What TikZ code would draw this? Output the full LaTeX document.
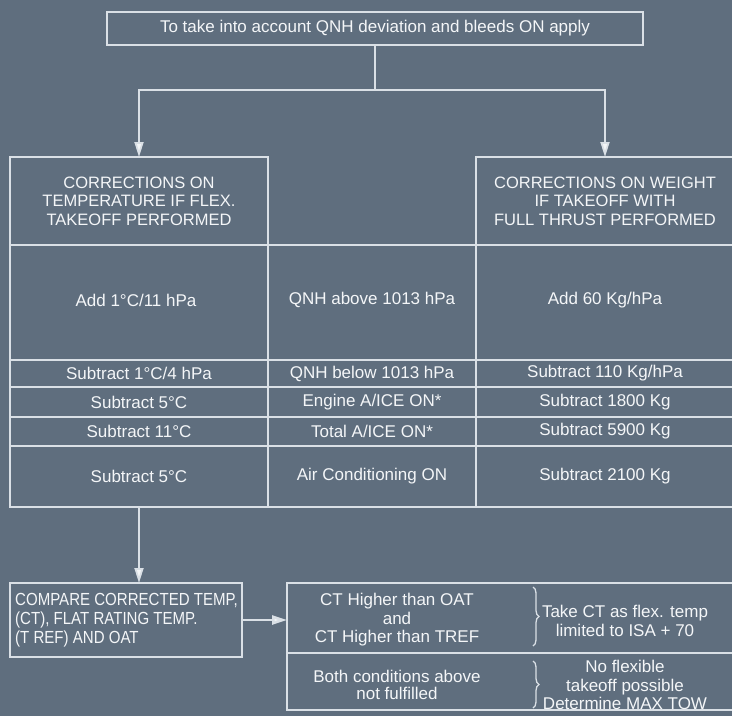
\documentclass[tikz,border=0pt]{standalone}
\usepackage{fontspec}
\setmainfont{Liberation Sans}
\newfontfamily\condfont[FakeStretch=0.86]{Liberation Sans}
\usetikzlibrary{arrows.meta,decorations.pathreplacing}
\definecolor{bg}{RGB}{95,110,126}
\definecolor{ln}{RGB}{218,224,230}
\definecolor{tx}{RGB}{244,246,248}
\begin{document}
\begin{tikzpicture}[x=1pt,y=-1pt,
  box/.style={draw=ln,line width=1.8pt,anchor=north west,inner sep=0pt,outer sep=0pt,text=tx,font=\fontsize{17}{18.5}\selectfont,align=center},
  hdr/.style={font=\fontsize{16.5}{18.5}\selectfont},
  conn/.style={draw=ln,line width=1.8pt},
  arr/.style={conn,-{Triangle[length=15pt,width=9pt,fill=tx]}},
  txt/.style={text=tx,font=\fontsize{17}{18.5}\selectfont,align=center,inner sep=0pt},
  brc/.style={draw=ln,line width=1.3pt,decorate,decoration={brace,amplitude=6pt}}
]
\fill[bg] (0,0) rectangle (732,716);
\useasboundingbox (0,0) rectangle (732,716);

\node[box,minimum width=536pt,minimum height=33pt] (top) at (107,12) {To take into account QNH deviation and bleeds ON apply};
\coordinate (split) at (375,90);

% header cells
\node[box,hdr,minimum width=258pt,minimum height=88pt] (h1) at (10,157) {CORRECTIONS ON\\TEMPERATURE IF FLEX.\\TAKEOFF PERFORMED};
\node[box,hdr,minimum width=258pt,minimum height=88pt] (h3) at (476,157) {CORRECTIONS ON WEIGHT\\IF TAKEOFF WITH\hspace*{14pt}\\FULL THRUST PERFORMED};

% row 1
\node[box,minimum width=258pt,minimum height=115pt] (r1a) at (10,245) {};
\node[box,minimum width=208pt,minimum height=115pt] (r1b) at (268,245) {};
\node[box,minimum width=258pt,minimum height=115pt] (r1c) at (476,245) {};
\node[txt] at (136,300) {Add 1°C/11 hPa};
\node[txt] at (372,300) {QNH above 1013 hPa};
\node[txt] at (605,300) {Add 60 Kg/hPa};

% row 2
\node[box,minimum width=258pt,minimum height=27pt] (r2a) at (10,360) {Subtract 1°C/4 hPa};
\node[box,minimum width=208pt,minimum height=27pt] (r2b) at (268,360) {QNH below 1013 hPa};
\node[box,minimum width=258pt,minimum height=27pt] (r2c) at (476,360) {Subtract 110 Kg/hPa};

% row 3
\node[box,minimum width=258pt,minimum height=30pt] (r3a) at (10,387) {Subtract 5°C};
\node[box,minimum width=208pt,minimum height=30pt] (r3b) at (268,387) {Engine A/ICE ON*};
\node[box,minimum width=258pt,minimum height=30pt] (r3c) at (476,387) {Subtract 1800 Kg};

% row 4
\node[box,minimum width=258pt,minimum height=29pt] (r4a) at (10,417) {Subtract 11°C};
\node[box,minimum width=208pt,minimum height=29pt] (r4b) at (268,417) {Total A/ICE ON*};
\node[box,minimum width=258pt,minimum height=29pt] (r4c) at (476,417) {Subtract 5900 Kg};

% row 5
\node[box,minimum width=258pt,minimum height=61pt] (r5a) at (10,446) {Subtract 5°C};
\node[box,minimum width=208pt,minimum height=61pt] (r5b) at (268,446) {Air Conditioning ON};
\node[box,minimum width=258pt,minimum height=61pt] (r5c) at (476,446) {Subtract 2100 Kg};

% compare box
\node[box,minimum width=232pt,minimum height=74pt] (cmp) at (10,583) {};
\node[txt,anchor=west,align=left,font=\condfont\fontsize{17.5}{19}\selectfont] (cmpt) at (15,620) {COMPARE CORRECTED TEMP,\\(CT), FLAT RATING TEMP.\\(T REF) AND OAT};

% decision boxes
\node[box,minimum width=447pt,minimum height=70pt] (c1) at (287,583) {};
\node[box,minimum width=447pt,minimum height=57pt] (c2) at (287,653) {};
\node[txt] (c1a) at (397,620) {CT Higher than OAT\\and\\CT Higher than TREF};
\node[txt] (c1b) at (625,621) {Take CT as flex. temp\\limited to ISA + 70};
\node[txt,font=\fontsize{17}{16.5}\selectfont] (c2a) at (397,685) {Both conditions above\\not fulfilled};
\node[txt] (c2b) at (625,685) {No flexible\\takeoff possible\\Determine MAX TOW};
\draw[brc] (533,587) -- (533,646);
\draw[brc] (533,661) -- (533,708);

% connectors
\draw[conn] (top.south) -- (split);
\draw[arr] (split) -| (h1.north);
\draw[arr] (split) -| (h3.north);
\draw[arr] (r5a.south) -- (r5a.south |- cmp.north);
\draw[arr,line width=2.6pt] (cmp.east) -- (cmp.east -| c1.west);
\end{tikzpicture}
\end{document}
